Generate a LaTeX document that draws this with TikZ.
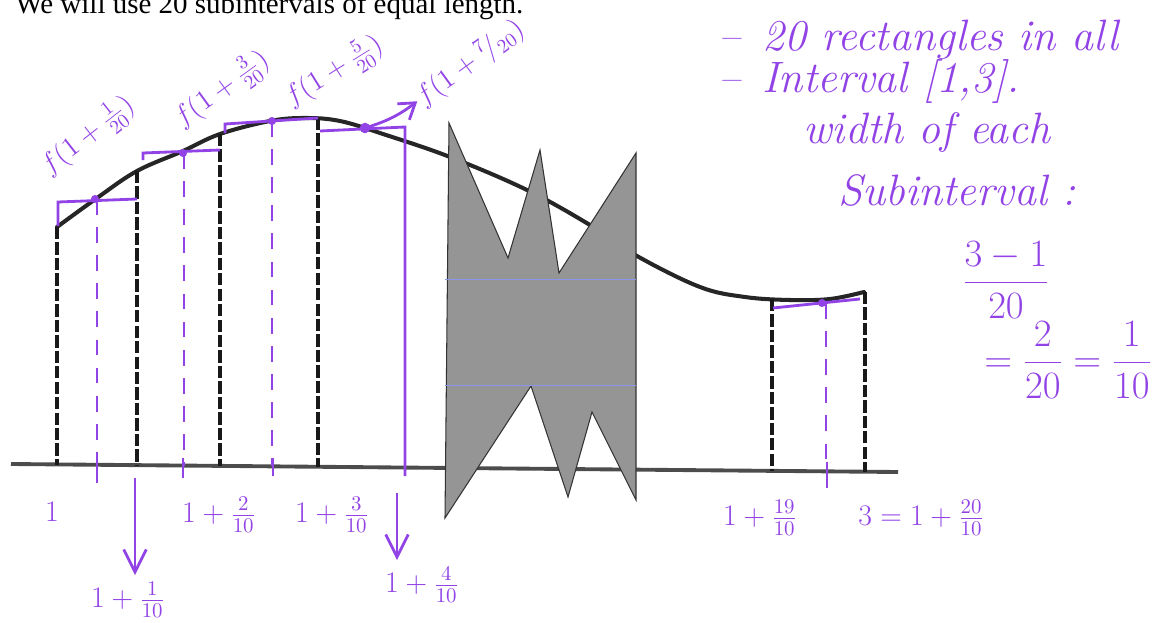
\RequirePackage{fix-cm}
\documentclass[tikz,border=0pt]{standalone}
\usepackage{fontspec}
\newfontfamily\printfont{Liberation Serif}
\usetikzlibrary{arrows.meta}
\definecolor{inkpurple}{HTML}{9243E6}
\definecolor{scangray}{HTML}{959595}
\definecolor{scanblue}{HTML}{8C94EC}
\tikzset{
  graphline/.style={line width=2.3pt, draw=black!85, line cap=round},
  axisline/.style={line width=2.2pt, draw=black!70},
  stripline/.style={line width=2.4pt, draw=black!90, dash pattern=on 7pt off 1.8pt},
  inkline/.style={line width=1.6pt, draw=inkpurple},
  inkdash/.style={line width=1.1pt, draw=inkpurple, dash pattern=on 9pt off 7pt},
  inkarrow/.style={-{Straight Barb[length=4.5mm, width=4.5mm]}, line width=1.6pt,
    draw=inkpurple, shorten >=1mm},
  inklab/.style={text=inkpurple, inner sep=1pt, font=\fontsize{17}{20}\selectfont},
  fnlab/.style={text=inkpurple, inner sep=1pt, font=\fontsize{16}{19}\selectfont},
  notelab/.style={text=inkpurple, inner sep=0pt, anchor=west,
    font=\fontsize{25}{30}\selectfont\itshape},
  calclab/.style={text=inkpurple, inner sep=1pt, font=\fontsize{22}{26}\selectfont},
  printtext/.style={inner sep=0pt, font=\printfont\fontsize{16.5}{19}\selectfont},
  cutout/.style={fill=scangray, draw=black!80, line width=0.6pt},
}
\begin{document}
\begin{tikzpicture}[x=0.02cm, y=-0.02cm]
\useasboundingbox (0,0) rectangle (1173,622);
% printed sentence, cut at the top of the scan
\node[printtext, anchor=base west] (title) at (15,13) {We will use 20 subintervals of equal length.};
% axis and graph of f
\draw[axisline] (11,464) -- (898,472);
\draw[graphline] plot[smooth, tension=0.6] coordinates {(57,227) (97,198) (137,171)
  (183,151) (220,134) (270,121) (305,118) (340,121) (383,134) (450,157) (527,190)
  (590,225) (637,256) (700,287) (745,297) (790,300) (830,299) (864,292)};
% dashed strip borders
\foreach \x/\ytop/\ybot in {57/227/465, 137/171/465, 220/134/466, 318/118/467,
  772/299/471, 865/292/472}
  \draw[stripline] (\x,\ytop) -- (\x,\ybot);
% torn-out middle of the page
\draw[cutout] (449,123) -- (508,258) -- (540,150) -- (559,273) -- (636,153)
  -- (636,500) -- (592,412) -- (568,497) -- (531,386) -- (445,518) -- cycle;
\draw[scanblue, line width=0.4pt] (445,279) -- (636,279);
\draw[scanblue, line width=0.4pt] (445,385) -- (636,385);
% midpoint heights in ink
\draw[inkline] (58,226) -- (58,202) -- (137,199);
\draw[inkline] (143,160) -- (143,153) -- (220,150);
\draw[inkline] (225,133) -- (225,124) -- (318,118);
\draw[inkline] (320,131) -- (405,127) -- (405,476);
\draw[inkline] (773,308) -- (860,299);
\foreach \x/\ytop in {97/199, 184/153, 272/121, 826/303}
  \draw[inkdash] (\x,\ytop) -- (\x,466);
\foreach \x/\ya/\yb in {97/460/483, 183/458/478, 273/458/476, 827/462/488}
  \draw[inkline] (\x,\ya) -- (\x,\yb);
\foreach \x/\y [count=\i] in {95/199, 183/153, 272/121, 365/128, 822/303}
  \coordinate (m\i) at (\x,\y);
\foreach \i in {1,2,3,5}
  \fill[inkpurple] (m\i) circle (2.3pt);
\fill[inkpurple] (m4) circle (3pt);
% sample values
\node[fnlab, rotate=38] (f1) at (88,136) {$f(1+\frac{1}{20})$};
\node[fnlab, rotate=36] (f3) at (222,90) {$f(1+\frac{3}{20})$};
\node[fnlab, rotate=32] (f5) at (334,72) {$f(1+\frac{5}{20})$};
\node[fnlab, rotate=36] (f7) at (470,63) {$f(1+{}^{7}\!/_{20})$};
\draw[inkline, -{Straight Barb[length=3mm, width=4mm]}] (m4) to[bend right=10] (f7.west);
% points on the axis
\node[inklab] (x0) at (52,512) {$1$};
\coordinate (a1) at (135,478);
\node[inklab] (x1) at (128,600) {$1+\frac{1}{10}$};
\draw[inkarrow] (a1) -- (a1 |- x1.north);
\node[inklab] (x2) at (219,515) {$1+\frac{2}{10}$};
\node[inklab] (x3) at (332,515) {$1+\frac{3}{10}$};
\coordinate (a4) at (397,493);
\node[inklab] (x4) at (422,585) {$1+\frac{4}{10}$};
\draw[inkarrow] (a4) -- (a4 |- x4.north);
\node[inklab] (x19) at (760,518) {$1+\frac{19}{10}$};
\node[inklab] (x20) at (921,518) {$3=1+\frac{20}{10}$};
% notes on the right
\node[notelab] (n1) at (718,40) {--\enspace 20 rectangles in all};
\node[notelab] (n2) at (718,82) {--\enspace Interval [1,3].};
\node[notelab] (n3) at (803,133) {width of each};
\node[notelab] (n4) at (838,190) {Subinterval :};
\node[calclab] (w1) at (1006,280) {$\displaystyle\frac{3-1}{20}$};
\node[calclab] (w2) at (1068,360) {$=\displaystyle\frac{2}{20}=\frac{1}{10}$};
\end{tikzpicture}
\end{document}
